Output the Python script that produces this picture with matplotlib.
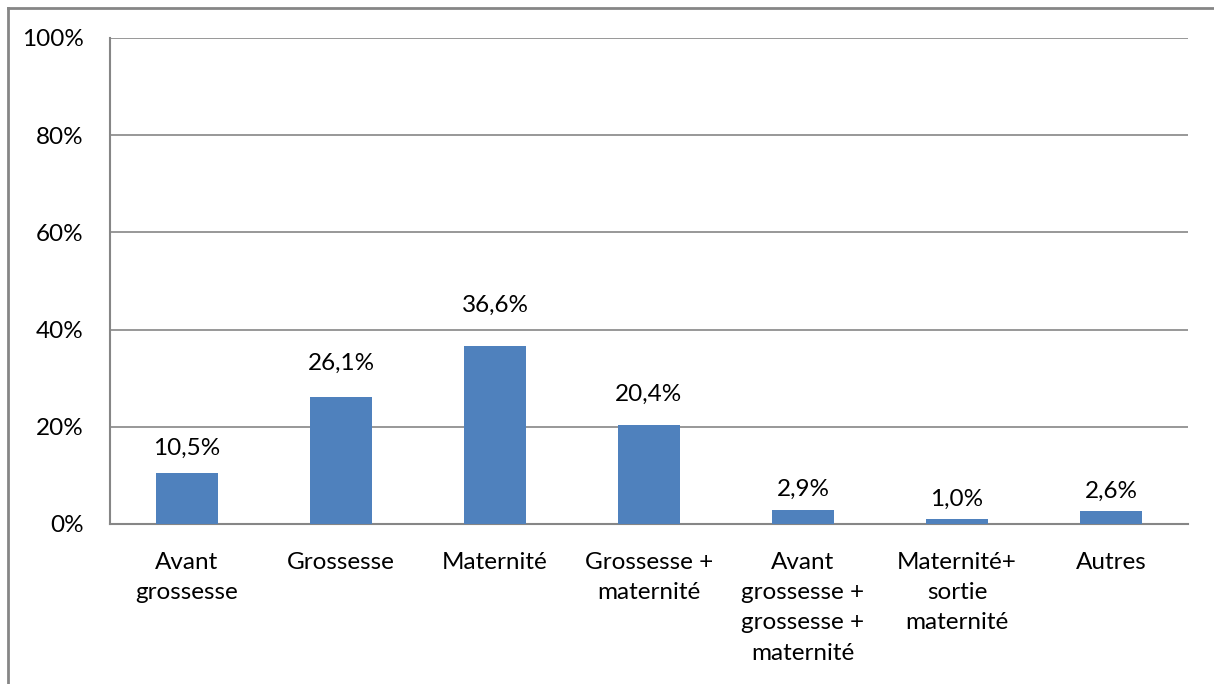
import matplotlib
matplotlib.use("Agg")
import matplotlib.pyplot as plt
from matplotlib.lines import Line2D

categories = ["Avant\ngrossesse", "Grossesse", "Maternité", "Grossesse +\nmaternité",
              "Avant\ngrossesse +\ngrossesse +\nmaternité", "Maternité+\nsortie\nmaternité", "Autres"]
values = [10.5, 26.1, 36.6, 20.4, 2.9, 1.0, 2.6]
value_labels = ["10,5%", "26,1%", "36,6%", "20,4%", "2,9%", "1,0%", "2,6%"]
yticks = [0, 20, 40, 60, 80, 100]
ytick_labels = ["0%", "20%", "40%", "60%", "80%", "100%"]

plt.rcParams['font.family'] = ['Lato', 'DejaVu Sans']
W, H = 1214, 684
fig = plt.figure(figsize=(W/100, H/100), dpi=100)
ax = fig.add_axes([110/W, 1 - 524/H, (1188-110)/W, (524-38)/H])

gray = "#868686"
fs = 17.5
x = range(len(categories))
ax.bar(x, values, width=0.4, color="#4F81BD", zorder=3)
ax.set_xlim(-0.5, len(categories) - 0.5)
ax.set_ylim(0, 100)
ax.set_yticks(yticks)
ax.set_yticklabels(ytick_labels, fontsize=fs)
ax.set_xticks(list(x))
ax.set_xticklabels(categories, fontsize=fs, linespacing=1.55, va="top")
ax.tick_params(axis="both", length=0)
ax.tick_params(axis="y", pad=19)
ax.tick_params(axis="x", pad=20)
ax.yaxis.grid(True, color=gray, linewidth=1.2, zorder=0)
for s in ["top", "right"]:
    ax.spines[s].set_visible(False)
for s in ["left", "bottom"]:
    ax.spines[s].set_color(gray)
    ax.spines[s].set_linewidth(1.5)

# data labels (placed as in the source chart: further above taller bars)
label_scale = 1.12
for xi, v, lab in zip(x, values, value_labels):
    ax.annotate(lab, (xi, v * label_scale), xytext=(0, 9), textcoords="offset points",
                ha="center", va="baseline", fontsize=fs)

# outer chart border
lw = 2
fig.add_artist(Line2D([8/W, 8/W], [0, 1 - 8/H], color=gray, lw=lw, transform=fig.transFigure))
fig.add_artist(Line2D([8/W, 1213/W], [1 - 8/H, 1 - 8/H], color=gray, lw=lw, transform=fig.transFigure))

fig.savefig("out.png", dpi=100)
